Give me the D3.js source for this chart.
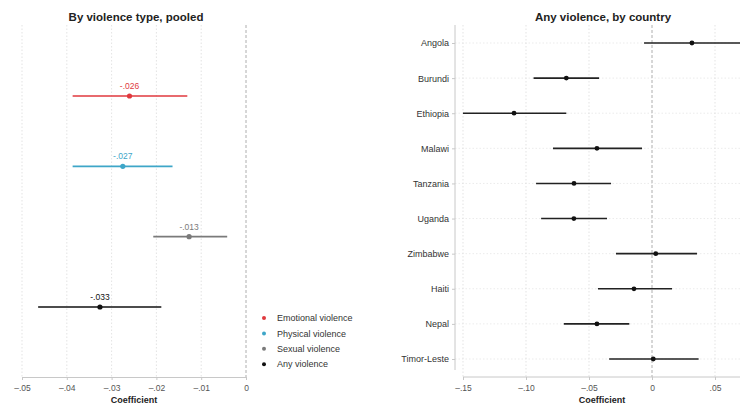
<!DOCTYPE html>
<html>
<head>
<meta charset="utf-8">
<script src="https://cdn.jsdelivr.net/npm/d3@7"></script>
<style>
  body { margin: 0; background: #fff; }
  svg text { font-family: "Liberation Sans", Arial, sans-serif; }
</style>
</head>
<body>
<svg id="chart" width="740" height="407"></svg>
<script>
// left panel: pooled by violence type
let types = ['Emotional violence', 'Physical violence', 'Sexual violence', 'Any violence'];
let typeColors = ['#e0393e', '#3ea6c8', '#7a7a7a', '#111111'];
let typeEst = [-0.026, -0.0275, -0.0127, -0.0326];
let typeLow = [-0.0387, -0.0387, -0.0207, -0.0464];
let typeHigh = [-0.0131, -0.0164, -0.0042, -0.0189];
let typeLabels = ['-.026', '-.027', '-.013', '-.033'];
let leftTicks = [-0.05, -0.04, -0.03, -0.02, -0.01, 0];
let leftTickLabels = ['\u2013.05', '\u2013.04', '\u2013.03', '\u2013.02', '\u2013.01', '0'];

// right panel: any violence by country
let countries = ['Angola', 'Burundi', 'Ethiopia', 'Malawi', 'Tanzania', 'Uganda', 'Zimbabwe', 'Haiti', 'Nepal', 'Timor-Leste'];
let countryEst = [0.0317, -0.068, -0.1095, -0.0437, -0.0619, -0.062, 0.003, -0.0143, -0.0437, 0.001];
let countryLow = [-0.0063, -0.094, -0.150, -0.0786, -0.092, -0.088, -0.0286, -0.0429, -0.070, -0.034];
let countryHigh = [0.08, -0.042, -0.068, -0.0079, -0.0325, -0.0357, 0.0357, 0.0159, -0.018, 0.037];
let rightTicks = [-0.15, -0.10, -0.05, 0, 0.05];
let rightTickLabels = ['\u2013.15', '\u2013.10', '\u2013.05', '0', '.05'];

var svg = d3.select('#chart');
var gridCol = '#dcdcdc';

// ---------- left panel ----------
var xL = d3.scaleLinear().domain([-0.05, 0]).range([22, 246]);
var yL = d3.scalePoint().domain(types).range([96, 307]);

var left = svg.append('g');

left.selectAll('.vgrid').data(leftTicks.slice(0, -1)).enter().append('line')
    .attr('x1', d => xL(d)).attr('x2', d => xL(d))
    .attr('y1', 25).attr('y2', 377)
    .attr('stroke', gridCol).attr('stroke-width', 0.8).attr('stroke-dasharray', '1.5,2');

left.append('line')
    .attr('x1', xL(0)).attr('x2', xL(0)).attr('y1', 25).attr('y2', 377)
    .attr('stroke', '#9a9a9a').attr('stroke-width', 0.8).attr('stroke-dasharray', '3,2');

var axL = d3.axisBottom(xL).tickValues(leftTicks)
    .tickFormat((d, i) => leftTickLabels[i]).tickSize(3).tickSizeOuter(0);
var gAxL = left.append('g').attr('transform', 'translate(0,377)').call(axL);
gAxL.select('.domain').attr('stroke', '#c8c8c8');
gAxL.selectAll('.tick line').attr('stroke', '#c8c8c8');
gAxL.selectAll('.tick text').attr('fill', '#555').attr('font-size', 8.5).attr('dy', '0.9em');

left.selectAll('.ci').data(types).enter().append('line')
    .attr('x1', (d, i) => xL(typeLow[i])).attr('x2', (d, i) => xL(typeHigh[i]))
    .attr('y1', d => yL(d)).attr('y2', d => yL(d))
    .attr('stroke', (d, i) => typeColors[i]).attr('stroke-width', 1.6);

left.selectAll('.pt').data(types).enter().append('circle')
    .attr('cx', (d, i) => xL(typeEst[i])).attr('cy', d => yL(d)).attr('r', 2.6)
    .attr('fill', (d, i) => typeColors[i]);

left.selectAll('.lab').data(types).enter().append('text')
    .attr('x', (d, i) => xL(typeEst[i])).attr('y', d => yL(d) - 7)
    .attr('text-anchor', 'middle').attr('font-size', 8.5)
    .attr('fill', (d, i) => typeColors[i])
    .text((d, i) => typeLabels[i]);

left.append('text').attr('x', 136).attr('y', 21).attr('text-anchor', 'middle')
    .attr('font-size', 11.5).attr('font-weight', 'bold').attr('fill', '#222')
    .text('By violence type, pooled');

left.append('text').attr('x', xL(-0.025)).attr('y', 403).attr('text-anchor', 'middle')
    .attr('font-size', 9).attr('font-weight', 'bold').attr('fill', '#222')
    .text('Coefficient');

// legend
var leg = left.selectAll('.leg').data(types).enter().append('g')
    .attr('transform', (d, i) => 'translate(264,' + (318 + i * 15.4) + ')');
leg.append('circle').attr('r', 2).attr('fill', (d, i) => typeColors[i]);
leg.append('text').attr('x', 13).attr('dy', '0.35em').attr('font-size', 9)
    .attr('fill', '#333').text(d => d);

// ---------- right panel ----------
var xR = d3.scaleLinear().domain([-0.15, 0.05]).range([463, 715]);
var yR = d3.scalePoint().domain(countries).range([43, 359]);

var right = svg.append('g');

right.selectAll('.hgrid').data(countries).enter().append('line')
    .attr('x1', 455).attr('x2', 740)
    .attr('y1', d => yR(d)).attr('y2', d => yR(d))
    .attr('stroke', '#e6e6e6').attr('stroke-width', 0.8).attr('stroke-dasharray', '1.5,2');

right.selectAll('.vgrid').data(rightTicks.filter(d => d !== 0)).enter().append('line')
    .attr('x1', d => xR(d)).attr('x2', d => xR(d))
    .attr('y1', 25).attr('y2', 377)
    .attr('stroke', gridCol).attr('stroke-width', 0.8).attr('stroke-dasharray', '1.5,2');

right.append('line')
    .attr('x1', xR(0)).attr('x2', xR(0)).attr('y1', 25).attr('y2', 377)
    .attr('stroke', '#9a9a9a').attr('stroke-width', 0.8).attr('stroke-dasharray', '3,2');

var axR = d3.axisBottom(xR).tickValues(rightTicks)
    .tickFormat((d, i) => rightTickLabels[i]).tickSize(3).tickSizeOuter(0);
var gAxR = right.append('g').attr('transform', 'translate(0,377)').call(axR);
gAxR.select('.domain').attr('d', 'M' + xR(-0.15) + ',0H740').attr('stroke', '#c8c8c8');
gAxR.selectAll('.tick line').attr('stroke', '#c8c8c8');
gAxR.selectAll('.tick text').attr('fill', '#555').attr('font-size', 8.5).attr('dy', '0.9em');

var ayR = d3.axisLeft(yR).tickSize(3).tickSizeOuter(0);
var gAyR = right.append('g').attr('transform', 'translate(455,0)').call(ayR);
gAyR.select('.domain').attr('d', 'M0,25V370').attr('stroke', '#c8c8c8');
gAyR.selectAll('.tick line').attr('stroke', '#c8c8c8');
gAyR.selectAll('.tick text').attr('fill', '#333').attr('font-size', 9);

right.selectAll('.ci').data(countries).enter().append('line')
    .attr('x1', (d, i) => xR(countryLow[i])).attr('x2', (d, i) => Math.min(740, xR(countryHigh[i])))
    .attr('y1', d => yR(d)).attr('y2', d => yR(d))
    .attr('stroke', '#222').attr('stroke-width', 1.6);

right.selectAll('.pt').data(countries).enter().append('circle')
    .attr('cx', (d, i) => xR(countryEst[i])).attr('cy', d => yR(d)).attr('r', 2.4)
    .attr('fill', '#111');

right.append('text').attr('x', 603).attr('y', 21).attr('text-anchor', 'middle')
    .attr('font-size', 11.5).attr('font-weight', 'bold').attr('fill', '#222')
    .text('Any violence, by country');

right.append('text').attr('x', 602).attr('y', 403).attr('text-anchor', 'middle')
    .attr('font-size', 9).attr('font-weight', 'bold').attr('fill', '#222')
    .text('Coefficient');
</script>
</body>
</html>
